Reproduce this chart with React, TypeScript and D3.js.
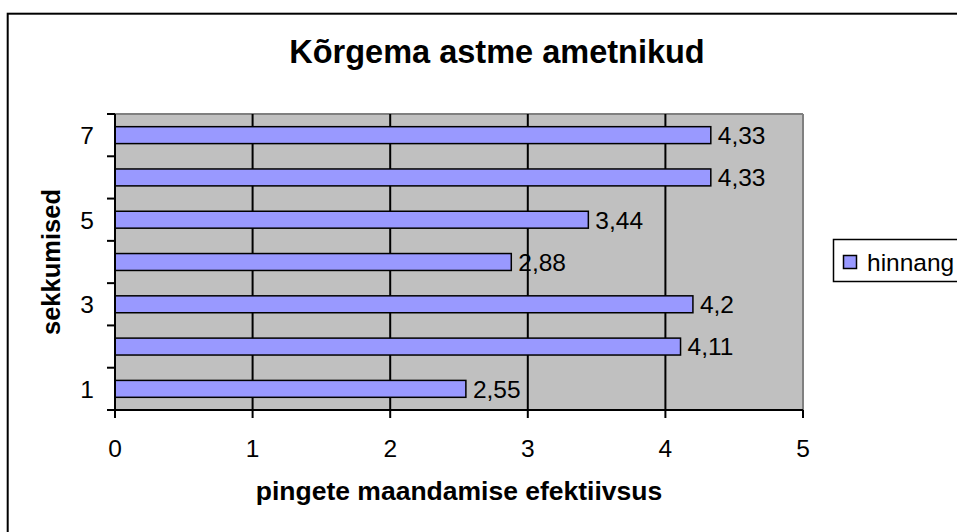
import React from "react";
import * as d3 from "d3";

const categories = ["1", "2", "3", "4", "5", "6", "7"];
const values = [2.55, 4.11, 4.2, 2.88, 3.44, 4.33, 4.33];
const valueLabels = ["2,55", "4,11", "4,2", "2,88", "3,44", "4,33", "4,33"];
const xTicks = [0, 1, 2, 3, 4, 5];
const shownYLabels = ["1", "3", "5", "7"];
const title = "Kõrgema astme ametnikud";
const xTitle = "pingete maandamise efektiivsus";
const yTitle = "sekkumised";
const seriesName = "hinnang";

const W = 957;
const H = 532;
const font = "'Liberation Sans', Arial, sans-serif";
const barFill = "#9999FF";

export default function App() {
  const left = 115, right = 803, top = 114, bottom = 410;
  const x = d3.scaleLinear().domain([0, 5]).range([left, right]);
  const y = d3
    .scaleBand<string>()
    .domain([...categories].reverse())
    .range([top, bottom])
    .paddingInner(0.6)
    .paddingOuter(0.3);
  const step = y.step();
  const boundaries = d3.range(categories.length + 1).map((i) => top + i * step);

  return (
    <svg
      width={W}
      height={H}
      style={{ position: "absolute", left: 0, top: 0, background: "#fff" }}
      fontFamily={font}
    >
      <rect x={0} y={0} width={W} height={H} fill="#fff" />
      {/* outer chart border */}
      <rect x={7.7} y={13.7} width={1000} height={600} fill="none" stroke="#000" strokeWidth={2} />

      {/* title */}
      <text x={497} y={63} textAnchor="middle" fontSize={32.5} fontWeight="bold" fill="#000">
        {title}
      </text>

      {/* plot area */}
      <rect x={left} y={top} width={right - left} height={bottom - top} fill="#C0C0C0" />
      <line x1={left} x2={right} y1={top} y2={top} stroke="#808080" strokeWidth={2} />
      <line x1={right} x2={right} y1={top} y2={bottom} stroke="#808080" strokeWidth={2} />

      {/* vertical gridlines */}
      {xTicks
        .filter((t) => t > 0 && t < 5)
        .map((t) => (
          <line key={"g" + t} x1={x(t)} x2={x(t)} y1={top} y2={bottom} stroke="#000" strokeWidth={2} />
        ))}

      {/* bars */}
      {categories.map((c, i) => (
        <rect
          key={"b" + c}
          x={x(0)}
          y={y(c)!}
          width={x(values[i]) - x(0)}
          height={y.bandwidth()}
          fill={barFill}
          stroke="#000"
          strokeWidth={1.5}
        />
      ))}

      {/* data labels */}
      {categories.map((c, i) => (
        <text
          key={"l" + c}
          x={x(values[i]) + 7}
          y={y(c)! + y.bandwidth() / 2}
          dy="0.36em"
          fontSize={24.5}
          fill="#000"
        >
          {valueLabels[i]}
        </text>
      ))}

      {/* y axis */}
      <line x1={left} x2={left} y1={top} y2={bottom} stroke="#000" strokeWidth={2} />
      {boundaries.map((b, i) => (
        <line key={"yt" + i} x1={left - 8} x2={left} y1={b} y2={b} stroke="#000" strokeWidth={2} />
      ))}
      {shownYLabels.map((c) => (
        <text
          key={"yl" + c}
          x={94}
          y={y(c)! + y.bandwidth() / 2}
          dy="0.36em"
          textAnchor="end"
          fontSize={24.5}
          fill="#000"
        >
          {c}
        </text>
      ))}

      {/* x axis */}
      <line x1={left - 8} x2={right} y1={bottom} y2={bottom} stroke="#000" strokeWidth={2} />
      {xTicks.map((t) => (
        <g key={"xt" + t}>
          <line x1={x(t)} x2={x(t)} y1={bottom} y2={bottom + 8} stroke="#000" strokeWidth={2} />
          <text x={x(t)} y={457} textAnchor="middle" fontSize={24.5} fill="#000">
            {t}
          </text>
        </g>
      ))}

      {/* axis titles */}
      <text x={(left + right) / 2} y={500} textAnchor="middle" fontSize={26.5} fontWeight="bold" fill="#000">
        {xTitle}
      </text>
      <text
        transform={`translate(60, ${(top + bottom) / 2}) rotate(-90)`}
        textAnchor="middle"
        fontSize={25.5}
        fontWeight="bold"
        fill="#000"
      >
        {yTitle}
      </text>

      {/* legend */}
      <rect x={833.5} y={239.5} width={200} height={42} fill="#fff" stroke="#000" strokeWidth={1.5} />
      <rect x={843.5} y={255.5} width={13} height={13} fill={barFill} stroke="#000" strokeWidth={1.5} />
      <text x={867} y={271} fontSize={24.5} fill="#000">
        {seriesName}
      </text>
    </svg>
  );
}
